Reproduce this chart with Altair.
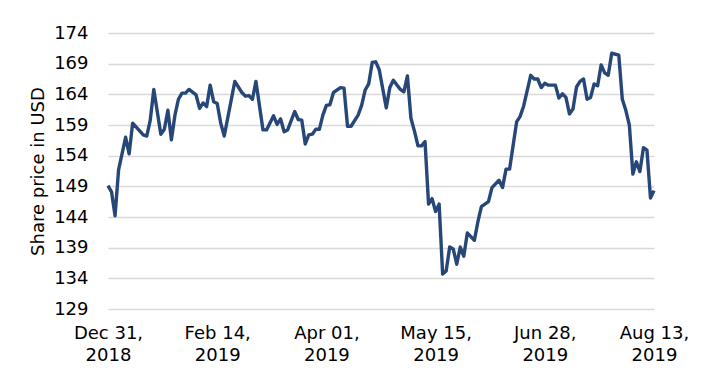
import altair as alt
import pandas as pd

# Trading-day index (0 = Dec 31, 2018 ... 155 = Aug 13, 2019) and share price in USD
day_index = [0, 1, 2, 3, 5, 6, 7, 10, 11, 12, 13, 15, 16, 17, 18, 19, 20, 21, 22, 23,
             25, 26, 27, 28, 29, 30, 31, 32, 33, 36, 38, 39, 40, 41, 42, 44, 45, 47, 48, 49,
             50, 51, 53, 54, 55, 56, 57, 58, 59, 60, 61, 62, 63, 64, 66, 67, 68, 69, 71, 72,
             73, 74, 75, 76, 77, 79, 80, 81, 83, 84, 85, 86, 87, 88, 89, 90, 91, 92, 93, 94,
             95, 96, 97, 98, 99, 100, 101, 102, 104, 105, 106, 108, 109, 111, 112, 113, 114, 116, 117, 118,
             120, 121, 122, 123, 124, 125, 127, 128, 129, 130, 131, 132, 133, 134, 135, 136, 137, 138, 139, 140,
             141, 142, 143, 145, 146, 147, 148, 149, 150, 151, 152, 153, 154, 155]
price = [149.1, 148.1, 144.2, 151.7, 157.0, 154.3, 159.3, 157.4, 157.2, 159.8, 164.8, 157.5, 158.3, 161.4, 156.6, 160.6, 163.2, 164.2, 164.2, 164.8,
         163.9, 161.7, 162.6, 162.0, 165.5, 162.8, 162.5, 159.3, 157.2, 166.1, 164.3, 163.7, 163.8, 163.2, 166.1, 158.2, 158.2, 160.5, 159.1, 160.0,
         157.9, 158.2, 161.2, 159.9, 159.8, 155.9, 157.4, 157.5, 158.3, 158.3, 160.6, 162.2, 162.3, 164.3, 165.1, 165.0, 158.8, 158.8, 160.6, 162.2,
         164.7, 165.7, 169.2, 169.3, 168.0, 161.8, 165.1, 166.3, 164.8, 164.4, 167.0, 160.1, 158.0, 155.6, 155.6, 156.3, 146.1, 147.0, 144.9, 146.1,
         134.7, 135.2, 139.1, 138.8, 136.3, 139.1, 137.6, 141.4, 140.2, 143.2, 145.7, 146.5, 148.8, 150.0, 148.8, 151.8, 151.8, 159.5, 160.4, 162.1,
         167.1, 166.5, 166.5, 165.1, 165.8, 165.5, 165.5, 163.4, 164.1, 163.5, 160.8, 161.6, 165.2, 166.1, 166.5, 163.2, 163.5, 165.7, 165.4, 168.8,
         167.5, 167.1, 170.7, 170.4, 163.2, 161.4, 159.0, 151.0, 153.0, 151.4, 155.3, 154.9, 147.1, 148.3]

tick_index = [0, 31, 62, 93, 124, 155]
tick_month_day = ["Dec 31,", "Feb 14,", "Apr 01,", "May 15,", "Jun 28,", "Aug 13,"]
tick_year = ["2018", "2019", "2019", "2019", "2019", "2019"]
y_ticks = [129, 134, 139, 144, 149, 154, 159, 164, 169, 174]

df = pd.DataFrame({"i": day_index, "price": price})

label_arr = "[" + ",".join(f"['{a}','{b}']" for a, b in zip(tick_month_day, tick_year)) + "]"
idx_arr = "[" + ",".join(str(t) for t in tick_index) + "]"
label_expr = f"{label_arr}[indexof({idx_arr}, datum.value)]"

FONT = "DejaVu Sans"

chart = alt.Chart(df).mark_line(color="#264778", strokeWidth=3.4, strokeJoin="round").encode(
    x=alt.X("i:Q",
            scale=alt.Scale(domain=[0, 155], nice=False, zero=False),
            axis=alt.Axis(values=tick_index, labelExpr=label_expr, title=None,
                          grid=False, domain=False, ticks=False,
                          labelFontSize=18, labelFont=FONT, labelColor="#000000",
                          labelLineHeight=22, labelPadding=15, labelAlign="center",
                          labelOverlap=False, labelFlush=False)),
    y=alt.Y("price:Q",
            scale=alt.Scale(domain=[129, 174], nice=False, zero=False),
            axis=alt.Axis(values=y_ticks, title="Share price in USD", grid=True,
                          gridColor="#D9D9D9", gridWidth=1.4,
                          domain=False, ticks=False,
                          labelFontSize=18, labelFont=FONT, labelColor="#000000",
                          labelPadding=20,
                          titleFont=FONT, titleFontSize=18, titleFontWeight="normal",
                          titleColor="#000000", titleX=-70, titleY=138,
                          titleAngle=-90, titleBaseline="middle", titleAlign="center")),
).properties(
    width=546, height=276,
    autosize=alt.AutoSizeParams(type="none"),
    padding={"left": 100, "top": 25, "right": 40, "bottom": 55},
).configure_view(stroke=None)

chart.save("out.html", embed_options={"renderer": "svg", "actions": False})
